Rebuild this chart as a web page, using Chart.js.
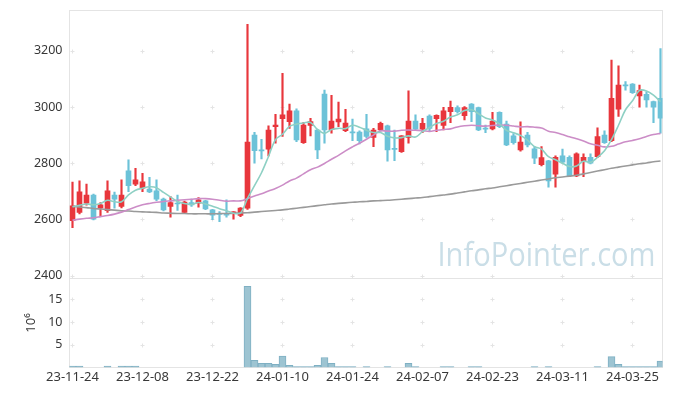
<!DOCTYPE html>
<html><head><meta charset="utf-8">
<script src="https://cdn.jsdelivr.net/npm/chart.js@4.4.1/dist/chart.umd.min.js"></script>
<style>html,body{margin:0;padding:0;background:#fff;overflow:hidden}canvas{display:block}</style>
</head><body>
<canvas id="c" width="673" height="396"></canvas>
<script>
const dates = ['23-11-24','23-11-27','23-11-28','23-11-29','23-11-30','23-12-01','23-12-04','23-12-05','23-12-06','23-12-07',
'23-12-08','23-12-11','23-12-12','23-12-13','23-12-14','23-12-15','23-12-18','23-12-19','23-12-20','23-12-21',
'23-12-22','23-12-26','23-12-27','23-12-28','24-01-02','24-01-03','24-01-04','24-01-05','24-01-08','24-01-09',
'24-01-10','24-01-11','24-01-12','24-01-15','24-01-16','24-01-17','24-01-18','24-01-19','24-01-22','24-01-23',
'24-01-24','24-01-25','24-01-26','24-01-29','24-01-30','24-01-31','24-02-01','24-02-02','24-02-05','24-02-06',
'24-02-07','24-02-08','24-02-13','24-02-14','24-02-15','24-02-16','24-02-19','24-02-20','24-02-21','24-02-22',
'24-02-23','24-02-26','24-02-27','24-02-28','24-02-29','24-03-04','24-03-05','24-03-06','24-03-07','24-03-08',
'24-03-11','24-03-12','24-03-13','24-03-14','24-03-15','24-03-18','24-03-19','24-03-20','24-03-21','24-03-22',
'24-03-25','24-03-26','24-03-27','24-03-28','24-03-29'];

const open = [2596,2625,2658,2687,2640,2631,2687,2646,2773,2725, 2711,2708,2702,2672,2646,2658,2625,2660,2658,2666,
2634,2621,2618,2623,2614,2640,2900,2847,2850,2930, 2958,2948,2986,2873,2934,2918,3046,2919,2947,2916,
2910,2911,2922,2892,2918,2933,2851,2841,2892,2950, 2921,2968,2958,2934,2983,2998,2969,3010,2998,2923,
2922,2981,2939,2897,2847,2900,2851,2795,2808,2761, 2826,2821,2755,2806,2821,2823,2900,2880,2992,3077,
3081,3039,3045,3019,3031];
const high = [2733,2737,2726,2690,2660,2737,2697,2741,2812,2782, 2764,2750,2741,2676,2681,2687,2665,2672,2678,2668,
2636,2628,2670,2628,2642,3294,2910,2885,2933,2974, 3120,3010,2993,2945,2960,2920,3060,3041,3017,2992,
2957,2915,2974,2924,2946,2936,2918,2898,3057,2972, 2960,2972,2972,2999,3021,3004,3001,3012,3000,2936,
2981,2983,2950,2905,2947,2910,2859,2859,2810,2826, 2850,2826,2837,2833,2833,2926,2915,3167,3146,3090,
3083,3078,3054,3021,3208];
const low = [2571,2620,2651,2598,2613,2625,2640,2641,2699,2720, 2699,2695,2667,2630,2608,2632,2622,2646,2644,2635,
2599,2592,2608,2601,2610,2636,2800,2815,2826,2871, 2895,2924,2877,2870,2897,2816,2871,2907,2930,2912,
2880,2869,2890,2859,2915,2807,2809,2838,2871,2918, 2909,2915,2912,2918,2944,2978,2954,2948,2916,2909,
2918,2926,2862,2868,2843,2858,2798,2790,2715,2715, 2800,2752,2752,2752,2797,2820,2870,2877,2966,3060,
3048,2999,2999,2944,2907];
const close = [2648,2698,2687,2601,2652,2702,2672,2687,2720,2741, 2734,2698,2672,2634,2660,2655,2662,2652,2670,2637,
2615,2618,2615,2627,2640,2875,2845,2844,2918,2936, 2972,2986,2883,2936,2948,2847,2918,2950,2957,2943,
2908,2880,2895,2918,2942,2847,2849,2897,2950,2921, 2942,2924,2970,2986,2999,2983,2998,2983,2918,2921,
2950,2930,2865,2873,2875,2865,2818,2820,2737,2821, 2804,2756,2833,2821,2800,2895,2873,3031,3078,3075,
3051,3058,3025,2999,2960];

const ma5 = [2645,2650,2655,2652,2657,2668,2663,2663,2687,2704, 2711,2716,2713,2696,2680,2664,2657,2653,2660,2655,
2647,2638,2631,2622,2623,2675,2720,2766,2824,2884, 2903,2931,2939,2943,2945,2920,2906,2920,2924,2923,
2935,2928,2917,2909,2909,2896,2890,2891,2897,2893, 2912,2927,2941,2949,2964,2972,2987,2990,2976,2961,
2954,2940,2917,2908,2899,2882,2859,2850,2823,2812, 2800,2788,2790,2807,2803,2821,2844,2884,2935,2990,
3022,3059,3057,3042,3019];
const ma20 = [2597,2601,2604,2606,2610,2614,2619,2626,2635,2644, 2652,2657,2661,2664,2666,2668,2670,2672,2674,2674,
2672,2668,2665,2666,2666,2674,2683,2691,2701,2710, 2722,2737,2747,2762,2777,2786,2799,2814,2828,2844,
2858,2871,2885,2900,2915,2914,2914,2917,2918,2917, 2916,2913,2917,2920,2922,2929,2933,2935,2933,2932,
2934,2936,2935,2932,2929,2930,2928,2925,2914,2909, 2902,2894,2887,2879,2869,2864,2858,2860,2868,2876,
2881,2887,2895,2902,2906];
const maLong = [2646,2644,2642,2639,2637,2635,2633,2631,2630,2628, 2627,2626,2625,2623,2622,2621,2621,2620,2620,2620,
2620,2621,2621,2622,2623,2624,2626,2628,2630,2632, 2634,2637,2640,2643,2646,2649,2652,2655,2657,2659,
2661,2663,2664,2666,2667,2668,2670,2672,2674,2676, 2678,2681,2684,2687,2690,2694,2698,2702,2705,2709,
2712,2716,2720,2724,2728,2732,2736,2740,2744,2748, 2751,2754,2757,2762,2767,2772,2777,2782,2786,2790,
2794,2798,2801,2805,2808];
const volume = [0.3,0.3,0,0,0,0.3,0,0.3,0.3,0.3, 0,0,0,0,0,0,0,0,0,0,
0,0,0,0,0,17.9,1.6,0.9,0.9,0.7, 2.5,0.5,0.2,0.2,0.2,0.5,2.2,0.9,0.2,0.2,
0.2,0,0.2,0,0,0.2,0,0,0.9,0.2, 0,0,0,0.2,0.2,0,0,0.2,0.2,0,
0,0,0,0,0,0,0.2,0,0.2,0, 0,0,0,0,0,0.2,0,2.4,0.7,0.2,
0.2,0.2,0.2,0.2,1.4];

const priceTicks = [2400,2600,2800,3000,3200];
const volumeTicks = [5,10,15];
const dateTicks = [0,10,20,30,40,50,60,70,80];

const RED = '#e8363c', BLUE = '#6cc2d8';
const candleColors = close.map((c,i) => c >= open[i] ? RED : BLUE);
const FONT = {family:'"Noto Sans"', size:12.5};
const XFONT = {family:'"Noto Sans"', size:13};
const TXT = '#383838';

const decor = {
  id:'decor',
  beforeDatasetsDraw(chart){
    const {ctx, chartArea:a, scales} = chart;
    ctx.save();
    ctx.fillStyle = '#cadee7';
    ctx.font = '33px "Open Sans"';
    ctx.textAlign = 'right';
    ctx.textBaseline = 'alphabetic';
    ctx.fillText('InfoPointer.com', a.right - 7, scales.y.bottom - 12.5, 218);
    ctx.strokeStyle = '#e4e4e4'; ctx.lineWidth = 1;
    const xs = dateTicks.map(v => Math.round(scales.x.getPixelForValue(v) - 0.5) + 0.5);
    const ys = priceTicks.map(v => Math.round(scales.y.getPixelForValue(v)) + 0.5)
      .concat(volumeTicks.map(v => Math.round(scales.yv.getPixelForValue(v)) + 0.5));
    ctx.beginPath();
    for (const x of xs) for (const y of ys) {
      ctx.moveTo(x - 2, y); ctx.lineTo(x + 2, y);
      ctx.moveTo(x, y - 2); ctx.lineTo(x, y + 2);
    }
    ctx.stroke();
    ctx.strokeStyle = '#e4e4e4';
    ctx.strokeRect(a.left, a.top, a.right - a.left, a.bottom - a.top);
    ctx.beginPath();
    ctx.moveTo(a.left, scales.y.bottom); ctx.lineTo(a.right, scales.y.bottom);
    ctx.stroke();
    ctx.restore();
  }
};

const lineDs = (arr, color) => ({
  type:'line', data: arr.map((v,i)=>({x:i,y:v})), borderColor: color, borderWidth:1.6,
  pointRadius:0, tension:0.35, yAxisID:'y', order:0
});

const fitY = s => { s.width = 69.5; s.paddingTop = 0; s.paddingBottom = 0; };

new Chart(document.getElementById('c'), {
  type:'bar',
  data:{ datasets:[
    lineDs(ma5, '#8ed0c4'),
    lineDs(ma20, '#cc8dc7'),
    lineDs(maLong, '#9a9a9a'),
    {type:'bar', data: open.map((o,i)=>({x:i, y:[o, close[i]]})), backgroundColor: candleColors,
      barThickness:5, minBarLength:1, grouped:false, yAxisID:'y', order:1},
    {type:'bar', data: low.map((l,i)=>({x:i, y:[l, high[i]]})), backgroundColor: candleColors,
      barThickness:1.5, grouped:false, yAxisID:'y', order:2},
    {type:'bar', data: volume.map((v,i)=>({x:i, y:v})), backgroundColor:'#9dc4d2', borderColor:'#7fb0c3',
      borderWidth:1, barThickness:7, grouped:false, yAxisID:'yv', order:3}
  ]},
  options:{
    responsive:false, animation:false, devicePixelRatio:1,
    layout:{padding:{top:10.5, right:10.5, left:0, bottom:0}},
    plugins:{legend:{display:false}, tooltip:{enabled:false}},
    scales:{
      x:{type:'linear', offset:false, min:-3/7, max:590/7,
        grid:{display:false, drawTicks:false, offset:false}, border:{display:false},
        afterBuildTicks: s => { s.ticks = dateTicks.map(v=>({value:v})); },
        afterFit: s => { s.height = 28.5; },
        ticks:{autoSkip:false, maxRotation:0, padding:2, font:XFONT, color:TXT,
          callback: v => dates[v] ?? ''}},
      y:{type:'linear', position:'left', stack:'panels', stackWeight:268, weight:2, min:2390, max:3343,
        grid:{display:false, drawTicks:false}, border:{display:false},
        afterBuildTicks: s => { s.ticks = priceTicks.map(v=>({value:v})); },
        afterFit: fitY,
        ticks:{padding:7, font:FONT, color:TXT, callback: v => String(v)}},
      yv:{type:'linear', position:'left', stack:'panels', stackWeight:89, weight:1, min:0, max:19.6,
        grid:{display:false, drawTicks:false}, border:{display:false},
        afterBuildTicks: s => { s.ticks = volumeTicks.map(v=>({value:v})); },
        afterFit: fitY,
        title:{display:true, text:'10⁶', font:{family:'"Noto Sans"', size:13}, color:TXT, padding:{top:23,bottom:0}},
        ticks:{padding:7, font:FONT, color:TXT, callback: v => String(v)}}
    }
  },
  plugins:[decor]
});
</script>
</body></html>
